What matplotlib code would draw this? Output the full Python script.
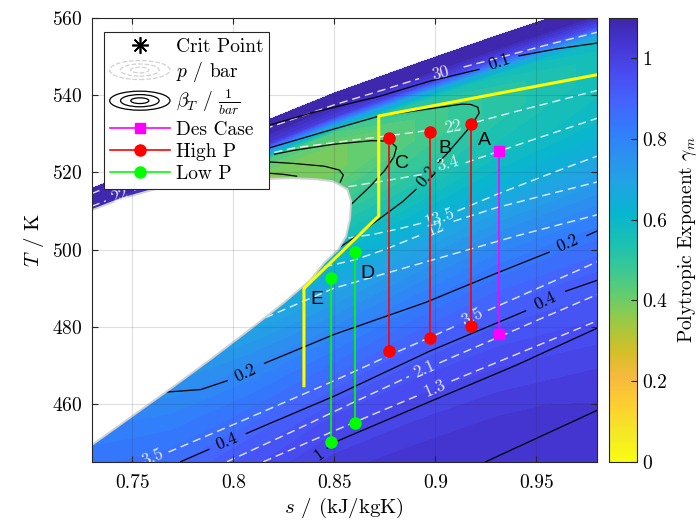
import numpy as np
import matplotlib
matplotlib.use('Agg')
import matplotlib.pyplot as plt
from matplotlib.colors import LinearSegmentedColormap, Normalize
from matplotlib.cm import ScalarMappable
from matplotlib.legend_handler import HandlerBase
from matplotlib.patches import Ellipse
from matplotlib.lines import Line2D

plt.rcParams['font.family'] = 'serif'
plt.rcParams['font.serif'] = ['cmr10']
plt.rcParams['mathtext.fontset'] = 'cm'
plt.rcParams['axes.formatter.use_mathtext'] = True

# ---- polytropic exponent field: columns in s, rows = depth (K) below upper edge of the data
s_cols = [0.73, 0.77, 0.81, 0.85, 0.89, 0.93, 0.98]
T_edge = [515.8, 524.0, 532.0, 540.5, 548.0, 555.3, 564.0]
depth = [0, 3, 6, 8, 10, 14, 20, 30, 40, 50, 60, 70, 85, 100, 130]
gamma = [
    [1.10, 1.10, 1.10, 1.10, 1.10, 1.10, 1.10],
    [1.09, 1.09, 1.09, 1.09, 1.09, 1.09, 1.09],
    [1.07, 1.05, 1.02, 1.00, 0.98, 0.97, 0.97],
    [1.03, 0.90, 0.72, 0.70, 0.70, 0.72, 0.74],
    [0.98, 0.70, 0.45, 0.45, 0.52, 0.56, 0.60],
    [0.85, 0.50, 0.37, 0.39, 0.45, 0.51, 0.56],
    [0.65, 0.45, 0.36, 0.39, 0.45, 0.51, 0.56],
    [0.60, 0.50, 0.45, 0.48, 0.51, 0.56, 0.59],
    [0.65, 0.60, 0.58, 0.58, 0.61, 0.64, 0.66],
    [0.72, 0.69, 0.67, 0.68, 0.71, 0.74, 0.75],
    [0.79, 0.76, 0.76, 0.77, 0.80, 0.83, 0.84],
    [0.84, 0.82, 0.83, 0.85, 0.88, 0.90, 0.90],
    [0.90, 0.90, 0.93, 0.96, 0.97, 0.97, 0.96],
    [0.96, 0.98, 1.01, 1.03, 1.03, 1.03, 1.02],
    [1.05, 1.06, 1.07, 1.07, 1.07, 1.07, 1.06],
]

# two-phase dome outline (white)
dome_s = [0.72, 0.73, 0.75, 0.77, 0.79, 0.81, 0.825, 0.838, 0.845, 0.852, 0.8559, 0.8578,
          0.8583, 0.8565, 0.8493, 0.841, 0.8295, 0.80, 0.78, 0.761, 0.745, 0.73, 0.72]
dome_T = [445.5, 449.3, 456.8, 464.3, 472.0, 480.0, 486.2, 492.0, 496.5, 500.0, 503.5, 508.0,
          512.5, 515.6, 517.7, 518.2, 518.5, 518.0, 517.0, 515.6, 513.2, 510.2, 508.0]

# isobars p / bar (white dashed): pieces + labels
p_lines = [
    ([([0.73, 0.78, 0.8147, 0.85, 0.875, 0.892], [514.5, 525.0, 531.1, 537.5, 541.5, 544.3]),
      ([0.914, 0.93, 0.955, 0.98], [547.3, 549.5, 553.0, 556.3])],
     [(0.9027, 545.8, '30')]),
    ([([0.73, 0.737], [511.2, 512.6]),
      ([0.751, 0.77, 0.80, 0.83, 0.86, 0.88, 0.897], [515.4, 518.8, 522.8, 526.3, 528.4, 529.7, 530.9]),
      ([0.92, 0.94, 0.96, 0.98], [533.0, 535.8, 538.5, 541.2])],
     [(0.744, 514.0, '22'), (0.9085, 531.9, '22')]),
    ([([0.857, 0.875, 0.895], [516.3, 517.8, 519.6]),
      ([0.915, 0.94, 0.96, 0.98], [522.5, 527.0, 530.5, 534.0])],
     [(0.906, 522.3, '3.4')]),
    ([([0.857, 0.87, 0.8822, 0.893], [503.0, 504.0, 505.4, 506.8]),
      ([0.911, 0.93, 0.955, 0.98], [510.0, 514.2, 519.3, 524.2])],
     [(0.9019, 508.3, '13.5')]),
    ([([0.845, 0.86, 0.875, 0.892], [495.5, 497.3, 500.0, 503.6]),
      ([0.909, 0.93, 0.955, 0.98], [507.3, 510.8, 514.2, 517.5])],
     [(0.9003, 505.5, '12')]),
    ([([0.81, 0.85, 0.90, 0.94, 0.98], [481.0, 490.0, 497.5, 503.5, 509.0])], []),
    ([([0.768, 0.80, 0.85, 0.88, 0.911], [447.5, 454.6, 466.0, 473.2, 480.4]),
      ([0.926, 0.95, 0.98], [484.2, 489.8, 496.8])],
     [(0.7604, 446.0, '3.5'), (0.9184, 482.5, '3.5')]),
    ([([0.797, 0.83, 0.86, 0.887], [445.0, 453.0, 460.5, 467.1]),
      ([0.902, 0.93, 0.955, 0.98], [470.6, 477.0, 482.7, 488.3])],
     [(0.8945, 468.9, '2.1')]),
    ([([0.815, 0.85, 0.892], [445.0, 453.0, 462.3]),
      ([0.908, 0.94, 0.98], [465.9, 472.8, 481.5])],
     [(0.90, 464.1, '1.3')]),
]

# isothermal compressibility beta_T (black): pieces + labels
b_lines = [
    ([([0.815, 0.84, 0.8723, 0.897, 0.9216], [531.8, 535.6, 539.7, 543.6, 546.7]),
      ([0.9414, 0.96, 0.98], [550.2, 552.0, 553.5])],
     [(0.9315, 548.6, '0.1')]),
    ([([0.844, 0.8591, 0.8838, 0.8905], [497.6, 502.8, 512.4, 515.6]),
      ([0.9015, 0.9052, 0.912, 0.918, 0.9217, 0.921, 0.9175, 0.9134, 0.8723, 0.845, 0.815],
       [522.6, 524.5, 528.6, 532.3, 535.4, 536.9, 537.6, 537.7, 534.6, 530.5, 525.9])],
     [(0.8958, 519.0, '0.2')]),
    ([([0.8205, 0.83, 0.85, 0.8685, 0.8776, 0.8808, 0.8795, 0.875, 0.868, 0.857],
       [524.7, 525.7, 527.3, 528.2, 528.1, 526.5, 524.0, 520.5, 516.5, 511.0])],
     [(0.8115, 523.7, '0.4')]),
    ([([0.815, 0.83, 0.845, 0.8525, 0.8545, 0.853], [522.8, 522.3, 521.6, 520.6, 519.3, 517.5])], []),
    ([([0.815, 0.8245, 0.8314], [519.85, 519.5, 519.0])], []),
    ([([0.7658, 0.784, 0.7971], [463.0, 463.7, 466.0]),
      ([0.8155, 0.85, 0.8953, 0.93, 0.9563], [470.5, 478.0, 486.3, 493.8, 499.3]),
      ([0.975, 0.98], [503.6, 504.8])],
     [(0.8062, 468.0, '0.2'), (0.9653, 501.6, '0.2')]),
    ([([0.774, 0.788], [445.0, 448.2]),
      ([0.8065, 0.8185, 0.85, 0.897, 0.9447], [452.3, 455.0, 462.0, 473.6, 484.1]),
      ([0.9645, 0.98], [489.2, 492.0])],
     [(0.797, 450.2, '0.4'), (0.9545, 486.7, '0.4')]),
    ([([0.8465, 0.8509, 0.897, 0.94, 0.98], [448.5, 450.2, 460.5, 470.0, 479.6])],
     [(0.8426, 446.9, '1')]),
    ([([0.925, 0.98], [445.0, 458.3])], []),
]

# process path and operating points
path_s = [0.98, 0.872, 0.872, 0.835, 0.835]
path_T = [545.3, 534.6, 508.7, 489.9, 464.7]
hp_s = [0.8769, 0.8973, 0.9179]
hp_top = [528.9, 530.5, 532.6]
hp_bot = [473.6, 477.0, 480.3]
des_s = 0.9315
des_T = [525.5, 478.1]
lp_s = [0.8603, 0.8486]
lp_top = [499.3, 492.6]
lp_bot = [455.1, 450.0]
pt_names = ['A', 'B', 'C', 'D', 'E']
pt_name_s = [0.9242, 0.9049, 0.8833, 0.8665, 0.8414]
pt_name_T = [528.3, 526.3, 522.4, 493.7, 487.1]

parula = [
    (0.2422, 0.1504, 0.6603), (0.2706, 0.2147, 0.8364), (0.2813, 0.3006, 0.9414),
    (0.2699, 0.3892, 0.9906), (0.1963, 0.4847, 0.9892), (0.1687, 0.5703, 0.9359),
    (0.1248, 0.6459, 0.8883), (0.0297, 0.7082, 0.8163), (0.0964, 0.7500, 0.7120),
    (0.2161, 0.7843, 0.5923), (0.3909, 0.8029, 0.4354), (0.6174, 0.7876, 0.2612),
    (0.8203, 0.7498, 0.1535), (0.9728, 0.7298, 0.2394), (0.9892, 0.8136, 0.1885),
    (0.9597, 0.9135, 0.1423), (0.9769, 0.9839, 0.0805)]
cmap = LinearSegmentedColormap.from_list('parula_r', parula[::-1], N=256)
norm = Normalize(0, 1.1)

fig = plt.figure(figsize=(6.98, 5.24), dpi=100)
ax = fig.add_axes([0.1314, 0.1189, 0.7239, 0.8467])
ax.set_xlim(0.73, 0.98)
ax.set_ylim(445, 560)

S = np.tile(s_cols, (len(depth), 1))
T = np.array(T_edge)[None, :] - np.array(depth)[:, None]
ax.contourf(S, T, np.array(gamma), levels=np.linspace(0, 1.1, 45), cmap=cmap, norm=norm,
            extend='max', zorder=1)
ax.plot(s_cols, T_edge, color='0.82', lw=1.6, zorder=0.9)


def label_angle(xs, ys, x0, y0):
    pts = ax.transData.transform(np.column_stack([xs, ys]))
    p0 = ax.transData.transform((x0, y0))
    d = np.hypot(*(pts - p0).T)
    a, b = sorted(np.argsort(d)[:2])
    v = pts[b] - pts[a]
    ang = np.degrees(np.arctan2(v[1], v[0]))
    if ang > 90:
        ang -= 180
    if ang < -90:
        ang += 180
    return ang


def draw_lines(lines, color, style, alpha, lw):
    for pieces, labels in lines:
        xs, ys = [], []
        for px, py in pieces:
            if style == 'dash':
                ax.plot(px, py, color=color, lw=lw, alpha=alpha, dashes=(6, 3.5), zorder=1.5)
            else:
                ax.plot(px, py, color=color, lw=lw, alpha=alpha, zorder=1.5)
            xs += px
            ys += py
        for x0, y0, txt in labels:
            ang = label_angle(xs, ys, x0, y0)
            ax.text(x0, y0, txt, color=color, alpha=alpha, fontsize=12.5, rotation=ang,
                    rotation_mode='anchor', ha='center', va='center', zorder=3, clip_on=True)


draw_lines(p_lines, 'white', 'dash', 0.85, 1.0)
draw_lines(b_lines, 'black', 'solid', 1.0, 0.9)

ax.fill(dome_s, dome_T, facecolor='white', edgecolor='0.82', lw=1.4, zorder=2)

ax.plot(path_s, path_T, color='#FFFF00', lw=2.2, zorder=4)
for s, t1, t2 in zip(hp_s, hp_top, hp_bot):
    ax.plot([s, s], [t1, t2], '-o', color='red', lw=1.2, ms=8, zorder=5)
ax.plot([des_s, des_s], des_T, '-s', color='magenta', lw=1.2, ms=7, zorder=5)
for s, t1, t2 in zip(lp_s, lp_top, lp_bot):
    ax.plot([s, s], [t1, t2], '-o', color='#00FF00', lw=1.2, ms=8, zorder=5)
for name, s, t in zip(pt_names, pt_name_s, pt_name_T):
    ax.text(s, t, name, family='Liberation Sans', fontsize=14, ha='center', va='center', zorder=6)

ax.set_xticks([0.75, 0.8, 0.85, 0.9, 0.95])
ax.set_xticklabels(['0.75', '0.8', '0.85', '0.9', '0.95'])
ax.set_yticks([460, 480, 500, 520, 540, 560])
ax.tick_params(direction='in', top=True, right=True, length=4, width=0.8, labelsize=14,
               colors='0.15', labelcolor='black')
ax.tick_params(axis='x', pad=9)
ax.tick_params(axis='y', pad=7)
ax.grid(True, color='0.15', alpha=0.15, lw=0.8)
ax.set_axisbelow(False)
for sp in ax.spines.values():
    sp.set_color('0.15')
    sp.set_linewidth(0.8)
    sp.set_zorder(7)
ax.set_xlabel(r'$s$ / (kJ/kgK)', fontsize=15, labelpad=3)
ax.set_ylabel(r'$T$ / K', fontsize=15, labelpad=4)


class RingHandler(HandlerBase):
    def __init__(self, color, ls):
        super().__init__()
        self.color = color
        self.ls = ls

    def create_artists(self, legend, orig_handle, xdescent, ydescent, width, height, fontsize, trans):
        cx = 0.5 * width - xdescent
        cy = 0.5 * height - ydescent
        out = []
        for f in (1.0, 0.64, 0.3):
            e = Ellipse((cx, cy), width * f, height * 1.4 * f, fill=False,
                        edgecolor=self.color, linestyle=self.ls, lw=0.9)
            e.set_transform(trans)
            out.append(e)
        return out


h_crit = Line2D([], [], ls='none', marker=(8, 2, 0), color='black', ms=12, mew=1.2)
h_p = Line2D([], [], color='0.85')
h_b = Line2D([], [], color='black')
h_des = Line2D([], [], color='magenta', marker='s', ms=7, lw=1.2)
h_hp = Line2D([], [], color='red', marker='o', ms=8, lw=1.2)
h_lp = Line2D([], [], color='#00FF00', marker='o', ms=8, lw=1.2)
leg = ax.legend([h_crit, h_p, h_b, h_des, h_hp, h_lp],
                ['Crit Point', r'$p$ / bar', r'$\beta_T$ / $\frac{1}{bar}$', 'Des Case', 'High P', 'Low P'],
                loc='upper left', bbox_to_anchor=(0.024, 0.968), borderaxespad=0, fontsize=14,
                handlelength=3.1, labelspacing=0.2, handletextpad=0.3, borderpad=0.3,
                fancybox=False, edgecolor='0.15', framealpha=1,
                handler_map={h_p: RingHandler('0.82', '--'), h_b: RingHandler('black', '-')})
leg.get_frame().set_linewidth(0.8)
leg.set_zorder(10)

cax = fig.add_axes([0.8732, 0.1189, 0.0401, 0.8467])
cb = fig.colorbar(ScalarMappable(norm=norm, cmap=cmap), cax=cax)
cb.set_ticks([0, 0.2, 0.4, 0.6, 0.8, 1])
cb.set_ticklabels(['0', '0.2', '0.4', '0.6', '0.8', '1'])
cax.tick_params(direction='in', length=4, width=0.8, labelsize=14, colors='0.15', labelcolor='black')
cb.outline.set_edgecolor('0.15')
cb.outline.set_linewidth(0.8)
cb.set_label(r'Polytropic Exponent $\gamma_{m}$', fontsize=14, labelpad=6)

fig.savefig('out.png', dpi=100)
